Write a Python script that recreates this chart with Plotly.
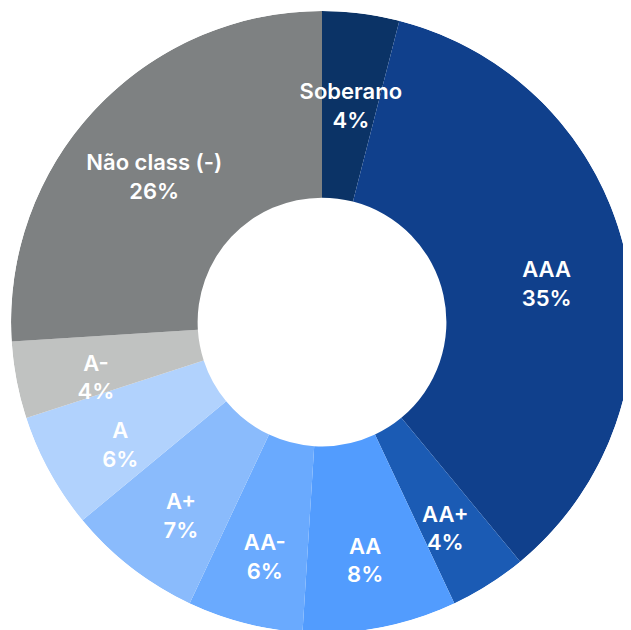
import plotly.graph_objects as go

labels = ["Soberano", "AAA", "AA+", "AA", "AA-", "A+", "A", "A-", "Não class (-)"]
values = [4, 35, 4, 8, 6, 7, 6, 4, 26]
colors = ["#0b3366", "#10408c", "#1b5bb4", "#529cfe", "#6aaafe", "#8abbfc", "#b1d2fd", "#c0c2c1", "#7e8182"]

dom_x = [0.0048, 0.9905]
dom_y = [0.0079, 0.9952]
hole = 0.4
label_r = 0.74

total = sum(values)
mid_theta = []
widths = []
acc = 0
for v in values:
    mid_theta.append((acc + v / 2) / total * 360)
    widths.append(v / total * 360)
    acc += v

fig = go.Figure()
fig.add_trace(go.Barpolar(
    r=[1 - hole] * len(values),
    base=hole,
    theta=mid_theta,
    width=widths,
    marker=dict(color=colors, line=dict(width=0)),
    hoverinfo="skip",
    showlegend=False,
))
fig.add_trace(go.Scatterpolar(
    r=[label_r] * len(values),
    theta=mid_theta,
    mode="text",
    text=[f"<br>{l}<br>{v}%" for l, v in zip(labels, values)],
    textposition="middle center",
    textfont=dict(family="Inter", size=22, color="white", weight=600),
    hoverinfo="skip",
    showlegend=False,
))
fig.update_layout(
    width=631, height=630,
    margin=dict(l=0, r=0, t=0, b=0),
    paper_bgcolor="white",
    polar=dict(
        domain=dict(x=dom_x, y=dom_y),
        bgcolor="rgba(0,0,0,0)",
        radialaxis=dict(range=[0, 1], visible=False),
        angularaxis=dict(rotation=90, direction="clockwise", visible=False),
    ),
)
fig.write_html("out.html")
